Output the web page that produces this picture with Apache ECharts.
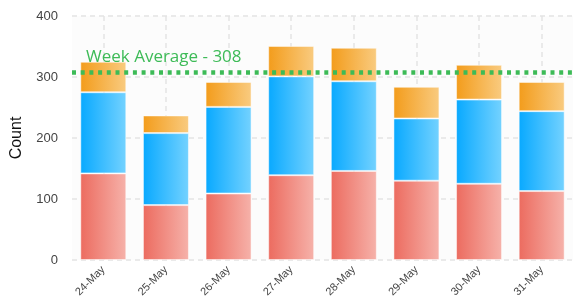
<!DOCTYPE html>
<html>
<head>
<meta charset="UTF-8">
<title>Week counts</title>
<script src="https://cdn.jsdelivr.net/npm/echarts@6/dist/echarts.min.js"></script>
<style>
html, body { margin: 0; padding: 0; background: #fff; }
#chart { width: 582px; height: 301px; }
</style>
</head>
<body>
<div id="chart"></div>
<script>
const days = ['24-May', '25-May', '26-May', '27-May', '28-May', '29-May', '30-May', '31-May'];
const redValues = [142, 90, 109, 139, 146, 130, 125, 113];
const blueValues = [133, 118, 142, 162, 147, 102, 138, 131];
const orangeValues = [50, 29, 41, 50, 55, 52, 57, 48];
const weekAverage = 308;

function grad(from, to) {
  return new echarts.graphic.LinearGradient(0, 0, 1, 0, [
    { offset: 0, color: from },
    { offset: 1, color: to }
  ]);
}

const chart = echarts.init(document.getElementById('chart'));
chart.setOption({
  animation: false,
  grid: { left: 72, right: 9, top: 16, bottom: 41, backgroundColor: '#fcfcfc', show: true, borderWidth: 0 },
  xAxis: {
    type: 'category',
    data: days,
    axisLine: { show: false },
    axisTick: { show: false },
    axisLabel: { rotate: 45, fontSize: 11, color: '#444', margin: 8, fontFamily: 'Liberation Sans' },
    splitLine: { show: true, alignWithLabel: true, lineStyle: { color: '#e3e3e3', type: [5, 4], width: 1.5 } }
  },
  yAxis: {
    type: 'value',
    min: 0,
    max: 400,
    interval: 100,
    name: 'Count',
    nameLocation: 'middle',
    nameGap: 47,
    nameTextStyle: { fontSize: 16, color: '#111', fontFamily: 'Liberation Sans' },
    axisLabel: { fontSize: 13, color: '#444', margin: 14, fontFamily: 'Liberation Sans' },
    axisLine: { show: false },
    axisTick: { show: false },
    splitLine: { lineStyle: { color: '#e3e3e3', type: [5, 4], width: 1.5 } }
  },
  series: [
    {
      type: 'bar', stack: 'total', data: redValues, barWidth: 46,
      itemStyle: { color: grad('#ec6b5f', '#f6b2aa'), borderColor: 'rgba(255,255,255,0.5)', borderWidth: 1 }
    },
    {
      type: 'bar', stack: 'total', data: blueValues, barWidth: 46,
      itemStyle: { color: grad('#08a9ff', '#74d2ff'), borderColor: 'rgba(255,255,255,0.5)', borderWidth: 1 }
    },
    {
      type: 'bar', stack: 'total', data: orangeValues, barWidth: 46,
      itemStyle: { color: grad('#f39c1b', '#f9cb80'), borderColor: 'rgba(255,255,255,0.5)', borderWidth: 1 },
      markLine: {
        symbol: 'none',
        silent: true,
        lineStyle: { color: '#3dbb57', type: [4, 4.7], width: 4.5, opacity: 1 },
        label: {
          position: 'insideStartTop',
          formatter: 'Week Average - ' + weekAverage,
          color: '#3dbb57',
          fontSize: 17,
          fontFamily: 'Open Sans',
          distance: [14, 6]
        },
        data: [{ yAxis: weekAverage }]
      }
    }
  ]
});
</script>
</body>
</html>
